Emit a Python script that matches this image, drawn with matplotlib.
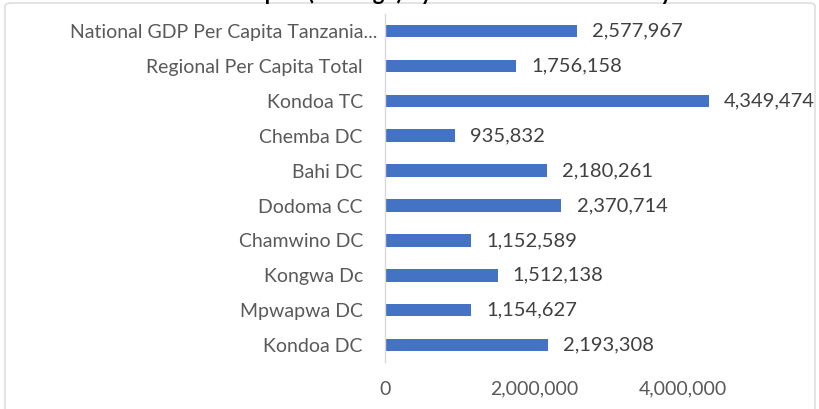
import matplotlib
matplotlib.use("Agg")
import matplotlib.pyplot as plt
import matplotlib.transforms as mtransforms
from matplotlib.patches import FancyBboxPatch
from matplotlib.ticker import FuncFormatter

categories = ["Kondoa DC", "Mpwapwa DC", "Kongwa Dc", "Chamwino DC", "Dodoma CC",
              "Bahi DC", "Chemba DC", "Kondoa TC", "Regional Per Capita Total",
              "National GDP Per Capita Tanzania..."]
values = [2193308, 1154627, 1512138, 1152589, 2370714, 2180261, 935832, 4349474,
          1756158, 2577967]
xticks = [0, 2000000, 4000000]
title = "GDP Per Capita (Average) by Council in Dodoma City"

plt.rcParams['font.family'] = ['Lato', 'DejaVu Sans']

fig = plt.figure(figsize=(8.19, 4.09), dpi=100)
# 0 at x=385 px, 5,000,000 at x=757 px
ax = fig.add_axes([385/819, 0.1137, 372/819, 0.853])

border = FancyBboxPatch((5/819, -0.05), 810/819, 1 - 3/409 + 0.05,
                        boxstyle="round,pad=0,rounding_size=0.008",
                        transform=fig.transFigure, facecolor='none',
                        edgecolor='#d9d9d9', linewidth=1.0, zorder=0)
fig.patches.append(border)

y = list(range(len(categories)))
ax.barh(y, values, height=0.36, color='#4472c4', zorder=2)
for yi, v in zip(y, values):
    ax.annotate(f"{v:,}", (v, yi), xytext=(11, 0), textcoords='offset points',
                va='center', ha='left', fontsize=14.5, color='#404040')

ax.set_xlim(0, 5000000)
ax.set_ylim(-0.5, len(categories) - 0.5)
ax.set_yticks(y)
ax.set_yticklabels(categories, fontsize=14, color='#595959')
ax.set_xticks(xticks)
ax.xaxis.set_major_formatter(FuncFormatter(lambda v, p: f"{int(v):,}"))
ax.tick_params(axis='x', labelsize=14, colors='#595959', length=0, pad=13)
ax.tick_params(axis='y', length=0, pad=16)
for s in ['top', 'right', 'bottom']:
    ax.spines[s].set_visible(False)
ax.spines['left'].set_color('#d9d9d9')
ax.spines['left'].set_linewidth(1.0)

# truncated label sits closer to the axis (as in the source)
lbl = ax.get_yticklabels()[-1]
lbl.set_transform(lbl.get_transform() +
                  mtransforms.ScaledTranslation(15/100, 0, fig.dpi_scale_trans))

fig.text(0.5, 0.999, title, ha='center', va='baseline', fontsize=16,
         fontweight='bold', color='black')

fig.savefig("out.png", dpi=100)
